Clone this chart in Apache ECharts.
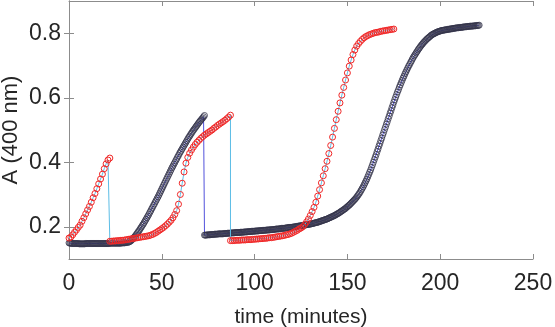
<!DOCTYPE html>
<html>
<head>
<meta charset="utf-8">
<script src="https://cdn.jsdelivr.net/npm/echarts@6/dist/echarts.min.js"></script>
<style>
html,body{margin:0;padding:0;background:#fff;}
#chart{width:555px;height:327px;}
</style>
</head>
<body>
<div id="chart"></div>
<script>
// Sampling steps (minutes)
var redStep = 1;
var blackStep = 0.5;

// Red series: three segments (start time, values every redStep minutes)
var redStart1 = 0;
var redSeg1 = [0.165,0.168,0.175,0.183,0.19,0.198,0.205,0.217,0.228,0.24,0.252,0.263,0.276,0.29,0.303,0.318,0.333,0.348,0.363,0.38,0.395,0.407,0.413];
var redStart2 = 22;
var redSeg2 = [0.155,0.155,0.156,0.156,0.157,0.157,0.158,0.158,0.159,0.16,
0.161,0.162,0.163,0.164,0.165,0.166,0.167,0.168,0.169,0.17,
0.171,0.172,0.174,0.176,0.179,0.182,0.186,0.19,0.194,0.198,
0.203,0.208,0.214,0.22,0.228,0.238,0.25,0.27,0.3,0.335,
0.37,0.397,0.415,0.428,0.438,0.447,0.455,0.462,0.468,0.474,
0.479,0.484,0.488,0.492,0.496,0.5,0.505,0.509,0.514,0.518,
0.522,0.526,0.53,0.535,0.54,0.546];
var redStart3 = 87;
var redSeg3 = [0.157,0.157,0.157,0.158,0.158,0.158,0.159,0.159,0.159,0.16,
0.16,0.16,0.161,0.161,0.162,0.162,0.163,0.163,0.164,0.164,
0.165,0.166,0.166,0.167,0.168,0.169,0.17,0.171,0.172,0.173,
0.175,0.176,0.178,0.18,0.183,0.186,0.189,0.193,0.196,0.2,
0.207,0.215,0.224,0.235,0.247,0.26,0.276,0.295,0.315,0.336,
0.358,0.38,0.403,0.427,0.452,0.478,0.505,0.532,0.558,0.584,
0.608,0.632,0.655,0.677,0.698,0.717,0.734,0.748,0.76,0.768,
0.775,0.781,0.786,0.79,0.793,0.796,0.798,0.8,0.802,0.803,
0.804,0.806,0.807,0.808,0.809,0.81,0.811,0.812,0.813];

// Black series: two segments (values every blackStep minutes)
var blackStart1 = 0;
var blackSeg1 = [0.15,0.149,0.149,0.148,0.148,0.148,0.148,0.148,0.148,0.148,
0.148,0.147,0.147,0.147,0.147,0.147,0.147,0.147,0.148,0.148,
0.148,0.148,0.148,0.148,0.148,0.148,0.148,0.148,0.148,0.148,
0.148,0.148,0.148,0.148,0.148,0.148,0.148,0.148,0.148,0.148,
0.148,0.148,0.148,0.148,0.149,0.149,0.149,0.149,0.149,0.149,
0.149,0.149,0.149,0.149,0.149,0.149,
0.149,0.15,0.15,0.15,0.15,0.151,0.151,0.152,0.152,
0.153,0.155,0.157,0.16,0.163,0.167,0.17,0.174,0.178,0.182,
0.186,0.19,0.195,0.199,0.204,0.208,0.213,0.218,0.223,0.228,
0.233,0.238,0.244,0.249,0.255,0.26,0.266,0.271,0.277,0.282,
0.288,0.293,0.299,0.305,0.311,0.317,0.323,0.329,0.335,0.341,
0.347,0.353,0.359,0.365,0.371,0.377,0.383,0.388,0.394,0.399,
0.405,0.41,0.416,0.421,0.427,0.432,0.437,0.442,0.447,0.452,
0.457,0.462,0.467,0.472,0.477,0.481,0.486,0.49,0.495,0.499,
0.503,0.507,0.511,0.515,0.519,0.523,0.527,0.53,0.534,0.537,
0.541,0.545];
var blackStart2 = 73;
var blackSeg2 = [0.174,0.174,0.174,0.175,0.175,0.175,0.175,0.176,0.176,0.176,
0.176,0.177,0.177,0.177,0.177,0.178,0.178,0.178,0.178,0.178,
0.178,0.179,0.179,0.179,0.179,0.18,0.18,0.18,0.18,0.181,
0.181,0.181,0.181,0.182,0.182,0.182,0.182,0.182,0.182,0.183,
0.183,0.183,0.183,0.184,0.184,0.184,0.184,0.185,0.185,0.185,
0.185,0.186,0.186,0.186,0.186,0.187,0.187,0.187,0.187,0.188,
0.188,0.188,0.188,0.189,0.189,0.189,0.189,0.19,0.19,0.19,
0.19,0.191,0.191,0.191,0.191,0.192,0.192,0.193,0.193,0.193,
0.193,0.194,0.194,0.195,0.195,0.195,0.195,0.196,0.196,0.197,
0.197,0.198,0.198,0.198,0.198,0.199,0.199,0.2,0.2,0.201,
0.201,0.202,0.202,0.203,0.203,0.204,0.204,0.205,0.205,0.206,
0.206,0.207,0.207,0.208,0.208,0.209,0.21,0.21,0.211,0.212,
0.213,0.213,0.214,0.215,0.216,0.217,0.218,0.219,0.22,0.221,
0.222,0.223,0.224,0.225,0.227,0.228,0.229,0.231,0.232,0.233,
0.235,0.236,0.238,0.24,0.241,0.243,0.245,0.247,0.249,0.251,
0.253,0.255,0.257,0.26,0.262,0.265,0.267,0.27,0.273,0.276,
0.279,0.282,0.285,0.288,0.292,0.296,0.3,0.304,0.309,0.314,
0.319,0.324,0.33,0.336,0.342,0.348,0.355,0.362,0.369,0.376,
0.384,0.392,0.4,0.408,0.416,0.424,0.433,0.441,0.45,0.458,
0.467,0.475,0.484,0.492,0.501,0.509,0.518,0.526,0.535,0.543,
0.552,0.56,0.569,0.577,0.586,0.594,0.602,0.61,0.618,0.625,
0.633,0.64,0.647,0.654,0.661,0.667,0.674,0.68,0.686,0.692,
0.698,0.703,0.709,0.714,0.72,0.725,0.73,0.734,0.739,0.743,
0.748,0.752,0.756,0.76,0.764,0.767,0.771,0.774,0.777,0.78,
0.783,0.785,0.788,0.79,0.793,0.795,0.797,0.798,0.8,0.801,
0.803,0.804,0.805,0.806,0.807,0.808,0.809,0.809,0.81,0.81,
0.811,0.811,0.812,0.812,0.813,0.813,0.814,0.814,0.815,0.815,
0.816,0.816,0.817,0.817,0.817,0.818,0.818,0.818,0.819,0.819,
0.82,0.82,0.82,0.821,0.821,0.821,0.822,0.822,0.822,0.822,
0.823,0.823,0.823,0.824,0.824,0.824,0.825];

// Axis ticks
var xTicks = [0, 50, 100, 150, 200, 250];
var yTicks = [0.2, 0.4, 0.6, 0.8];
var xMin = 0, xMax = 250, yMin = 0.1, yMax = 0.9;

function seg(start, step, vals) {
  return vals.map(function (v, i) { return [start + i * step, v]; });
}
var redData = seg(redStart1, redStep, redSeg1)
  .concat(seg(redStart2, redStep, redSeg2))
  .concat(seg(redStart3, redStep, redSeg3));
var blackData = seg(blackStart1, blackStep, blackSeg1)
  .concat(seg(blackStart2, blackStep, blackSeg2));

var axisColor = '#8c8c8c';
var textColor = '#262626';
var font = 'Liberation Sans, Arial, sans-serif';

var chart = echarts.init(document.getElementById('chart'), null, {renderer: 'canvas'});
chart.setOption({
  animation: false,
  backgroundColor: '#fff',
  grid: {left: 69, right: 22, top: 1, bottom: 68, containLabel: false, outerBoundsMode: 'none'},
  xAxis: [{
    type: 'value', min: xMin, max: xMax, interval: 50,
    name: 'time (minutes)', nameLocation: 'middle', nameGap: 48, nameMoveOverlap: false,
    nameTextStyle: {fontSize: 21, color: textColor, fontFamily: font},
    axisLine: {show: true, lineStyle: {color: axisColor, width: 1}},
    axisTick: {show: true, inside: true, length: 5, lineStyle: {color: axisColor}},
    axisLabel: {fontSize: 23, color: textColor, fontFamily: font, margin: 13,
      customValues: xTicks},
    splitLine: {show: false}
  }, {
    type: 'value', position: 'top', min: xMin, max: xMax, interval: 50,
    axisLine: {show: true, lineStyle: {color: axisColor, width: 1}},
    axisTick: {show: true, inside: true, length: 5, lineStyle: {color: axisColor}},
    axisLabel: {show: false},
    splitLine: {show: false}
  }],
  yAxis: [{
    type: 'value', min: yMin, max: yMax,
    name: 'A (400 nm)', nameLocation: 'middle', nameGap: 47, nameRotate: 90, nameMoveOverlap: false,
    nameTextStyle: {fontSize: 22, color: textColor, fontFamily: font},
    axisLine: {show: true, lineStyle: {color: axisColor, width: 1}},
    axisTick: {show: true, inside: true, length: 5, lineStyle: {color: axisColor}, customValues: yTicks},
    axisLabel: {fontSize: 23, color: textColor, fontFamily: font, margin: 8, customValues: yTicks,
      formatter: function (v) { return v.toFixed(1); }},
    splitLine: {show: false}
  }, {
    type: 'value', position: 'right', min: yMin, max: yMax,
    axisLine: {show: true, lineStyle: {color: axisColor, width: 1}},
    axisTick: {show: true, inside: true, length: 5, lineStyle: {color: axisColor}, customValues: yTicks},
    axisLabel: {show: false, customValues: yTicks},
    splitLine: {show: false}
  }],
  series: [{
    name: 'black', type: 'line', xAxisIndex: 0, yAxisIndex: 0,
    data: blackData, showSymbol: true, showAllSymbol: true,
    symbol: 'circle', symbolSize: 6,
    itemStyle: {color: 'rgba(0,0,0,0)', borderColor: '#34344a', borderWidth: 0.8},
    lineStyle: {color: '#5252dc', width: 1},
    z: 2
  }, {
    name: 'red', type: 'line', xAxisIndex: 0, yAxisIndex: 0,
    data: redData, showSymbol: true, showAllSymbol: true,
    symbol: 'circle', symbolSize: 6,
    itemStyle: {color: 'rgba(0,0,0,0)', borderColor: '#f02828', borderWidth: 1},
    lineStyle: {color: '#5cbde6', width: 1},
    z: 3
  }]
});
</script>
</body>
</html>
